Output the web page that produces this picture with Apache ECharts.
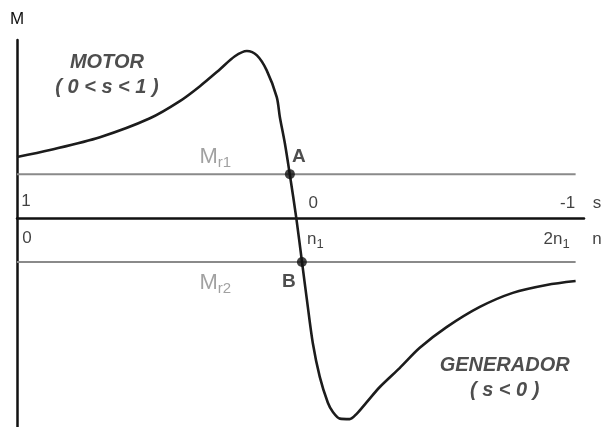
<!DOCTYPE html>
<html>
<head>
<meta charset="utf-8">
<script src="https://cdn.jsdelivr.net/npm/echarts@6/dist/echarts.min.js"></script>
<style>
  html, body { margin: 0; padding: 0; background: #fff; }
  #chart { width: 604px; height: 427px; }
</style>
</head>
<body>
<div id="chart"></div>
<script>
// torque-slip curve (s: slip, M: torque in relative units)
const slip = [1.0, 0.882, 0.703, 0.524, 0.417, 0.345, 0.274, 0.22, 0.177, 0.141, 0.106, 0.07, 0.059, 0.041, 0.023, 0.0,
  -0.02, -0.038, -0.059, -0.084, -0.113, -0.131, -0.156, -0.191, -0.216, -0.25, -0.299, -0.37, -0.442, -0.538, -0.657, -0.775, -0.896, -1.0];
const torque = [1.39, 1.55, 1.84, 2.27, 2.66, 3.0, 3.38, 3.68, 3.8, 3.7, 3.36, 2.75, 2.3, 1.7, 0.98, 0.0,
  -0.98, -1.86, -2.84, -3.61, -4.2, -4.41, -4.56, -4.57, -4.45, -4.2, -3.84, -3.41, -2.95, -2.48, -2.02, -1.7, -1.52, -1.43];

const sTicks = [1, 0, -1];
const sTickLabels = ["1", "0", "-1"];
const nTickLabels = ["0", "{t|n}{sub|1}", "{t|2n}{sub|1}"];

const loadTorques = [1, -1]; // Mr1, Mr2
const loadNames = ["r1", "r2"];
const opSlip = [0.023, -0.02]; // A, B
const opNames = ["A", "B"];

const FONT = "Liberation Sans, Arial, sans-serif";
const chart = echarts.init(document.getElementById("chart"));

const curve = slip.map((s, i) => [s, torque[i]]);

// tick label offsets (styling only)
const topOff = [[9, -17], [17, -15], [-8, -15]];
const botOff = [[10, 20], [19, 21], [-19, 21]];

const tickLabelData = [];
sTicks.forEach((s, i) => {
  tickLabelData.push({ value: [s, 0], text: sTickLabels[i], offset: topOff[i] });
  tickLabelData.push({ value: [s, 0], text: nTickLabels[i], offset: botOff[i] });
});
// axis names s / n at the end of the axis
tickLabelData.push({ value: [-1.03, 0], text: "s", offset: [13, -15] });
tickLabelData.push({ value: [-1.03, 0], text: "n", offset: [13, 21] });

const labelStyle = {
  fontFamily: FONT,
  fontSize: 17,
  color: "#111",
  rich: {
    t: { fontFamily: FONT, fontSize: 17, color: "#111" },
    sub: { fontFamily: FONT, fontSize: 13, color: "#111", padding: [10, 0, 0, 0] },
  },
};

chart.setOption({
  animation: false,
  backgroundColor: "#fff",
  grid: { left: 17, right: 20, top: 40, bottom: 0 },
  xAxis: {
    type: "value",
    min: -1.03,
    max: 1,
    inverse: true,
    axisLine: { onZero: true, lineStyle: { color: "#111", width: 2.5 } },
    axisTick: { show: false },
    axisLabel: { show: false },
    splitLine: { show: false },
  },
  yAxis: {
    type: "value",
    min: -4.75,
    max: 4.05,
    name: "M",
    nameGap: 12,
    nameTextStyle: { fontFamily: FONT, fontSize: 17, color: "#111", align: "center" },
    axisLine: { show: true, onZero: false, lineStyle: { color: "#111", width: 2.5 } },
    axisTick: { show: false },
    axisLabel: { show: false },
    splitLine: { show: false },
  },
  series: [
    // load torque lines Mr1 / Mr2
    ...loadTorques.map((m, i) => ({
      type: "line",
      data: [[1, m], [-1, m]],
      symbol: "none",
      lineStyle: { color: "#8a8a8a", width: 2 },
      z: 1,
    })),
    {
      type: "line",
      data: curve,
      smooth: 0.3,
      symbol: "none",
      lineStyle: { color: "#1c1c1c", width: 2.6 },
      z: 3,
    },
    // operating points A, B
    {
      type: "scatter",
      data: opSlip.map((s, i) => ({
        value: [s, loadTorques[i]],
        label: {
          show: true,
          formatter: opNames[i],
          position: "inside",
          offset: i === 0 ? [9, -17] : [-13, 20],
          fontFamily: FONT,
          fontSize: 19,
          fontWeight: "bold",
          color: "#222",
        },
      })),
      symbolSize: 10,
      itemStyle: { color: "#111" },
      z: 5,
    },
    // Mr labels
    {
      type: "scatter",
      symbolSize: 0,
      data: loadTorques.map((m, i) => ({
        value: [0.29, m],
        label: {
          show: true,
          position: i === 0 ? "top" : "bottom",
          distance: i === 0 ? 4 : 7,
          formatter: "{m|M}{s|" + loadNames[i] + "}",
          rich: {
            m: { fontFamily: FONT, fontSize: 22, color: "#8a8a8a" },
            s: { fontFamily: FONT, fontSize: 15, color: "#8a8a8a", padding: [12, 0, 0, 0] },
          },
        },
      })),
      z: 4,
    },
    // tick labels
    {
      type: "scatter",
      symbolSize: 0,
      data: tickLabelData.map((d) => ({
        value: d.value,
        label: Object.assign({ show: true, position: "inside", formatter: d.text, offset: d.offset }, labelStyle),
      })),
      z: 4,
    },
    // region annotations
    {
      type: "scatter",
      symbolSize: 0,
      data: [
        { value: [0.678, 3.26], text: "MOTOR\n( 0 < s < 1 )" },
        { value: [-0.746, -3.64], text: "GENERADOR\n( s < 0 )" },
      ].map((d) => ({
        value: d.value,
        label: {
          show: true,
          position: "inside",
          formatter: d.text,
          fontFamily: FONT,
          fontSize: 20,
          fontStyle: "italic",
          fontWeight: "bold",
          lineHeight: 25,
          align: "center",
          color: "#222",
        },
      })),
      z: 4,
    },
  ],
});
</script>
</body>
</html>
